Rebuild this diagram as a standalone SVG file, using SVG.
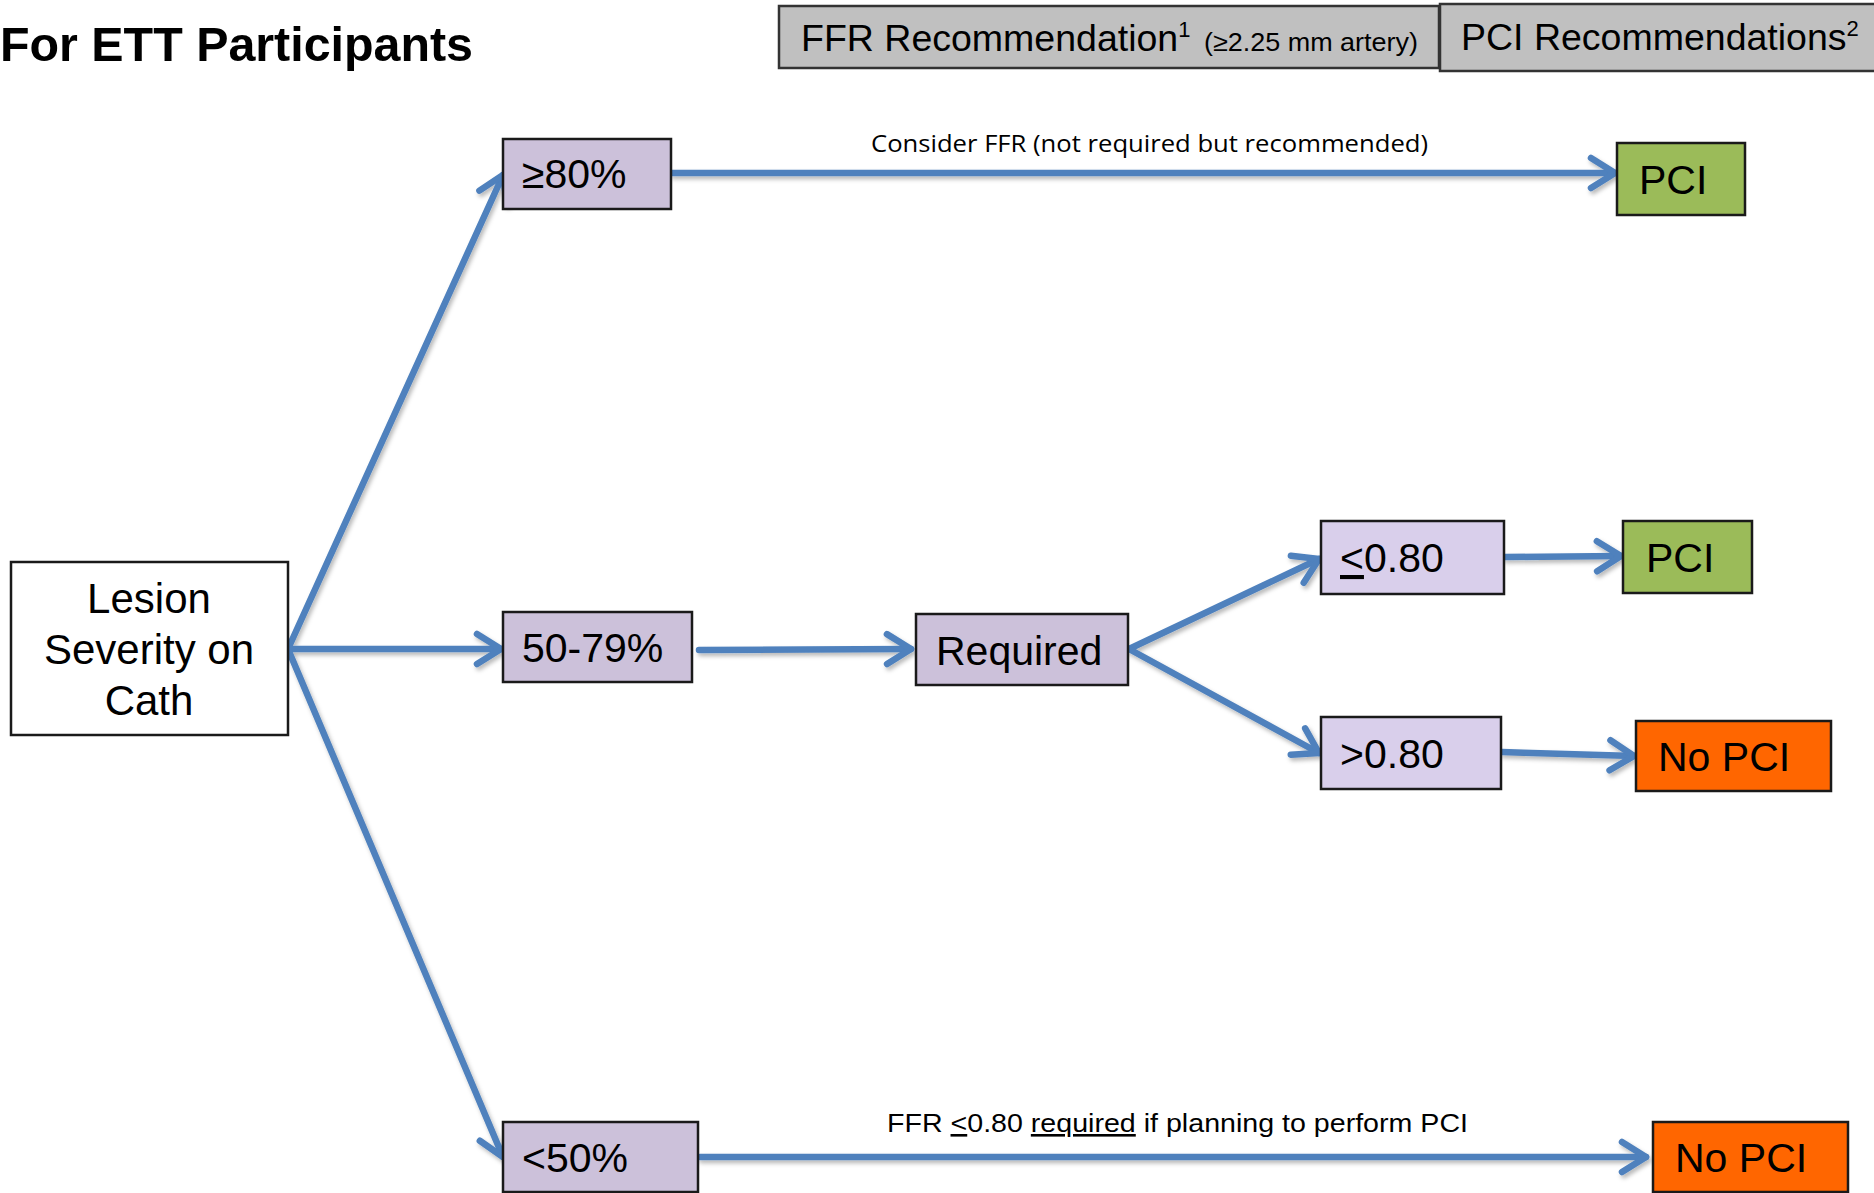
<svg xmlns="http://www.w3.org/2000/svg" width="1874" height="1193" viewBox="0 0 1874 1193">
  <style>
    .box { stroke: #1a1a1a; stroke-width: 2.5; }
    .hdr { fill: #c0c0c0; stroke: #333; stroke-width: 2.5; }
    .lav { fill: #ccc1da; }
    .lav2 { fill: #d9cfeb; }
    .grn { fill: #9bbb59; }
    .org { fill: #ff6600; }
    .t { font-family: "Liberation Sans", Arial, sans-serif; font-size: 41px; fill: #000; }
    .h { font-family: "Liberation Sans", Arial, sans-serif; font-size: 37.5px; fill: #000; }
    .hs { font-family: "Liberation Sans", Arial, sans-serif; font-size: 26px; fill: #000; }
    .lbl { font-family: "Open Sans", "Liberation Sans", sans-serif; font-size: 24px; fill: #000; }
    .c { fill: none; stroke: #4f81bd; stroke-width: 6.5; stroke-linecap: round; }
  </style>
  <defs>
    <marker id="arr" markerUnits="userSpaceOnUse" markerWidth="44" markerHeight="44" viewBox="-30 -22 36 44" refX="0" refY="0" orient="auto">
      <path d="M-24,-15 L0,0 L-24,15" fill="none" stroke="#4f81bd" stroke-width="6.5" stroke-linecap="round" stroke-linejoin="round"/>
    </marker>
    <filter id="sh" x="-10%" y="-10%" width="120%" height="120%">
      <feDropShadow dx="2" dy="3" stdDeviation="2" flood-color="#000" flood-opacity="0.28"/>
    </filter>
  </defs>

  <text x="0" y="61" font-family="Liberation Sans, Arial, sans-serif" font-weight="bold" font-size="48" textLength="473" lengthAdjust="spacingAndGlyphs">For ETT Participants</text>

  <g id="hdr-ffr">
    <rect class="hdr" x="779" y="6" width="660" height="62"/>
    <text class="h" x="801" y="51">FFR Recommendation<tspan style="font-size:22px" dy="-14">1</tspan></text>
    <text class="hs" x="1204" y="51" textLength="214" lengthAdjust="spacingAndGlyphs">(≥2.25 mm artery)</text>
  </g>
  <g id="hdr-pci">
    <rect class="hdr" x="1440" y="4" width="440" height="67"/>
    <text class="h" x="1461" y="50">PCI Recommendations<tspan style="font-size:22px" dy="-14">2</tspan></text>
  </g>

  <g id="connectors">
    <g filter="url(#sh)">
      <path class="c" d="M288,649 L503,175" marker-end="url(#arr)"/>
      <path class="c" d="M288,649 L501,649" marker-end="url(#arr)"/>
      <path class="c" d="M288,649 L503,1157" marker-end="url(#arr)"/>
      <path class="c" d="M672,173 L1615,173" marker-end="url(#arr)"/>
      <path class="c" d="M699,650 L911,649" marker-end="url(#arr)"/>
      <path class="c" d="M1129,649 L1319,559" marker-end="url(#arr)"/>
      <path class="c" d="M1129,649 L1319,753" marker-end="url(#arr)"/>
      <path class="c" d="M1505,557 L1621,556" marker-end="url(#arr)"/>
      <path class="c" d="M1502,752 L1634,756" marker-end="url(#arr)"/>
      <path class="c" d="M700,1157 L1646,1157" marker-end="url(#arr)"/>
    </g>
    <text class="lbl" x="871" y="152" textLength="557" lengthAdjust="spacingAndGlyphs">Consider FFR (not required but recommended)</text>
    <text x="887" y="1132" font-family="Liberation Sans, Arial, sans-serif" font-size="26" textLength="581" lengthAdjust="spacingAndGlyphs">FFR <tspan text-decoration="underline">&lt;</tspan>0.80 <tspan text-decoration="underline">required</tspan> if planning to perform PCI</text>
  </g>

  <g id="lesion">
    <rect class="box" x="11" y="562" width="277" height="173" fill="#fff"/>
    <text class="t" x="149" y="613" text-anchor="middle" style="font-size:42px">Lesion</text>
    <text class="t" x="149" y="664" text-anchor="middle" style="font-size:42px">Severity  on</text>
    <text class="t" x="149" y="715" text-anchor="middle" style="font-size:42px">Cath</text>
  </g>
  <g id="n80">
    <rect class="box lav" x="503" y="139" width="168" height="70"/>
    <text class="t" x="522" y="188">≥80%</text>
  </g>
  <g id="n5079">
    <rect class="box lav" x="503" y="612" width="189" height="70"/>
    <text class="t" x="522" y="662">50-79%</text>
  </g>
  <g id="n50">
    <rect class="box lav" x="503" y="1122" width="195" height="70"/>
    <text class="t" x="522" y="1172">&lt;50%</text>
  </g>
  <g id="required">
    <rect class="box lav" x="916" y="614" width="212" height="71"/>
    <text class="t" x="936" y="665">Required</text>
  </g>
  <g id="le080">
    <rect class="box lav2" x="1321" y="521" width="183" height="73"/>
    <text class="t" x="1340" y="572"><tspan text-decoration="underline">&lt;</tspan>0.80</text>
  </g>
  <g id="gt080">
    <rect class="box lav2" x="1321" y="717" width="180" height="72"/>
    <text class="t" x="1340" y="768">&gt;0.80</text>
  </g>
  <g id="pci-top">
    <rect class="box grn" x="1617" y="143" width="128" height="72"/>
    <text class="t" x="1639" y="194">PCI</text>
  </g>
  <g id="pci-mid">
    <rect class="box grn" x="1623" y="521" width="129" height="72"/>
    <text class="t" x="1646" y="572">PCI</text>
  </g>
  <g id="nopci-mid">
    <rect class="box org" x="1636" y="721" width="195" height="70"/>
    <text class="t" x="1658" y="771">No PCI</text>
  </g>
  <g id="nopci-bot">
    <rect class="box org" x="1653" y="1122" width="195" height="70"/>
    <text class="t" x="1675" y="1172">No PCI</text>
  </g>
</svg>
